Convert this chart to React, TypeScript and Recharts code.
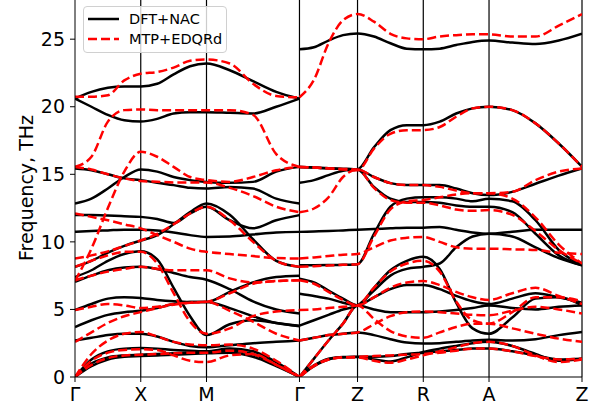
import React from "react"
import { Line, LineChart, ReferenceLine, XAxis, YAxis } from "recharts"

// high-symmetry points along the path (Γ-X = X-M = a, Γ-Z = c)
const KPOINT_X = [0, 1, 2, 3.414, 4.297, 5.297, 6.297, 7.711]
const KPOINT_LABELS = ["Γ", "X", "M", "Γ", "Z", "R", "A", "Z"]
const Y_TICKS = [0, 5, 10, 15, 20, 25]

// each band sampled at 5 points per segment (ends shared)
// left part: Γ-X-M-Γ (13 values), right part: Γ-Z-R-A-Z (17 values)
const DFT_LEFT = [
  [20.6, 21.1, 21.4, 21.5, 21.5, 21.7, 22.4, 23.0, 23.2, 22.7, 21.9, 21.1, 20.6],
  [20.6, 20.0, 19.4, 19.0, 18.9, 19.1, 19.5, 19.6, 19.6, 19.55, 19.5, 20.0, 20.6],
  [15.43, 15.3, 15.0, 14.7, 14.57, 14.37, 14.2, 14.0, 13.95, 14.07, 13.95, 13.2, 12.84],
  [12.84, 13.2, 13.95, 14.8, 15.36, 15.2, 14.8, 14.57, 14.44, 14.37, 14.44, 15.2, 15.55],
  [11.98, 11.98, 11.95, 11.9, 11.85, 11.7, 11.4, 12.1, 12.6, 11.6, 11.0, 11.6, 11.98],
  [10.74, 10.8, 10.85, 10.9, 10.9, 10.85, 10.7, 10.5, 10.37, 10.4, 10.55, 10.7, 10.74],
  [8.15, 8.6, 9.2, 9.7, 10.1, 10.5, 11.3, 12.2, 12.84, 12.0, 10.2, 8.6, 8.15],
  [7.4, 7.9, 8.6, 9.1, 9.3, 8.7, 6.6, 4.5, 3.1, 3.9, 4.2, 4.0, 3.75],
  [7.05, 7.5, 7.9, 8.1, 8.15, 8.0, 7.7, 7.4, 7.2, 6.5, 5.6, 5.0, 4.7],
  [4.95, 5.4, 5.8, 5.9, 5.85, 5.7, 5.6, 5.55, 5.55, 6.3, 7.0, 7.4, 7.5],
  [3.7, 4.2, 4.6, 4.8, 4.9, 5.1, 5.4, 5.55, 5.55, 5.1, 4.5, 4.0, 3.8],
  [2.7, 2.9, 3.1, 3.2, 3.2, 3.0, 2.6, 2.3, 2.2, 2.35, 2.5, 2.6, 2.7],
  [0, 1.3, 1.9, 2.1, 2.15, 2.1, 2.0, 1.95, 1.9, 2.1, 1.9, 1.1, 0],
  [0, 1.0, 1.45, 1.6, 1.65, 1.7, 1.75, 1.8, 1.85, 1.95, 1.7, 0.9, 0],
  [0, 0.8, 1.3, 1.5, 1.55, 1.6, 1.65, 1.7, 1.75, 1.8, 1.5, 0.8, 0],
]

const DFT_RIGHT = [
  [24.25, 24.4, 24.9, 25.3, 25.43, 25.2, 24.7, 24.3, 24.25, 24.3, 24.57, 24.8, 24.9, 24.75, 24.64, 24.9, 25.4],
  [14.37, 14.57, 14.94, 15.26, 15.36, 17.0, 18.27, 18.64, 18.64, 18.9, 19.5, 19.88, 20.0, 19.75, 18.77, 17.28, 15.56],
  [15.55, 15.5, 15.45, 15.4, 15.36, 14.8, 14.35, 14.2, 14.2, 14.2, 13.95, 13.6, 13.46, 13.7, 14.3, 14.9, 15.43],
  [15.55, 15.5, 15.45, 15.4, 15.36, 14.07, 13.2, 12.96, 12.96, 12.9, 12.7, 12.6, 12.6, 12.2, 10.6, 9.0, 8.27],
  [10.74, 10.77, 10.8, 10.85, 10.9, 10.95, 11.0, 11.05, 11.05, 11.1, 10.9, 10.7, 10.6, 10.75, 10.9, 10.9, 10.9],
  [8.27, 8.27, 8.28, 8.3, 8.35, 10.6, 12.6, 13.2, 13.3, 13.3, 13.2, 13.0, 13.2, 13.0, 11.6, 9.4, 8.27],
  [3.8, 4.2, 4.6, 5.0, 5.3, 6.4, 7.5, 8.0, 8.15, 8.4, 9.6, 10.4, 10.6, 10.4, 9.6, 8.8, 8.27],
  [7.28, 7.0, 6.4, 5.8, 5.3, 5.9, 6.5, 6.8, 6.8, 6.5, 6.0, 5.6, 5.4, 5.8, 6.2, 5.9, 5.5],
  [6.17, 6.0, 5.8, 5.5, 5.3, 6.6, 7.9, 8.6, 8.9, 8.0, 5.5, 3.6, 3.2, 4.4, 5.8, 5.9, 5.3],
  [0, 1.36, 2.7, 3.95, 5.3, 5.0, 4.8, 4.8, 4.8, 4.85, 4.95, 5.1, 5.3, 5.1, 5.0, 5.2, 5.3],
  [2.7, 2.9, 3.1, 3.2, 3.3, 3.1, 2.8, 2.55, 2.47, 2.5, 2.6, 2.7, 2.75, 2.7, 2.8, 3.1, 3.33],
  [0, 0.86, 1.36, 1.48, 1.48, 1.3, 1.15, 1.45, 1.85, 2.1, 2.3, 2.5, 2.6, 2.3, 1.7, 1.2, 1.36],
  [0, 0.8, 1.3, 1.45, 1.5, 1.5, 1.55, 1.7, 1.8, 1.9, 2.0, 2.1, 2.1, 1.9, 1.6, 1.3, 1.36],
]

const MTP_LEFT = [
  [20.74, 20.74, 20.85, 21.95, 22.44, 22.57, 22.9, 23.4, 23.5, 23.2, 21.7, 20.8, 20.7],
  [15.55, 16.3, 18.9, 19.75, 19.8, 19.75, 19.75, 19.75, 19.75, 19.75, 19.4, 16.5, 15.55],
  [15.55, 15.35, 15.0, 14.7, 14.5, 14.45, 14.4, 14.4, 14.4, 14.0, 13.4, 12.6, 12.2],
  [7.1, 9.5, 12.5, 15.2, 16.67, 16.3, 15.55, 14.8, 14.57, 14.44, 14.8, 15.3, 15.55],
  [12.1, 11.85, 11.6, 11.3, 11.0, 10.5, 10.0, 9.5, 9.26, 9.1, 8.95, 8.8, 8.77],
  [8.77, 9.0, 9.3, 9.7, 10.1, 10.6, 11.3, 12.1, 12.6, 11.6, 10.0, 8.6, 8.15],
  [8.15, 8.6, 9.0, 9.26, 9.26, 8.4, 6.2, 4.1, 3.2, 3.6, 4.5, 4.85, 4.95],
  [7.16, 7.5, 7.8, 8.0, 8.15, 8.0, 7.9, 7.9, 7.9, 7.3, 7.0, 7.1, 7.16],
  [4.95, 5.2, 5.4, 5.3, 5.1, 5.2, 5.4, 5.5, 5.56, 6.2, 6.9, 7.1, 7.16],
  [2.6, 3.3, 4.0, 4.5, 4.8, 5.1, 5.35, 5.5, 5.56, 4.9, 4.1, 3.2, 2.7],
  [0, 1.7, 2.7, 3.2, 3.33, 3.0, 2.6, 2.4, 2.35, 2.4, 2.1, 1.2, 0],
  [0, 1.2, 1.8, 2.0, 2.05, 2.0, 1.6, 1.2, 1.1, 1.6, 1.7, 0.9, 0],
  [0, 0.9, 1.4, 1.6, 1.65, 1.7, 1.75, 1.8, 1.8, 1.95, 1.7, 0.9, 0],
]

const MTP_RIGHT = [
  [20.7, 22.0, 24.7, 26.4, 26.86, 26.3, 25.4, 25.06, 25.0, 25.2, 25.3, 25.36, 25.36, 25.2, 25.2, 26.0, 26.86],
  [15.55, 15.5, 15.43, 15.36, 15.3, 16.9, 18.0, 18.27, 18.27, 18.5, 19.26, 19.88, 20.0, 19.75, 18.77, 17.28, 15.56],
  [12.2, 12.47, 13.3, 14.8, 15.36, 14.8, 14.35, 14.2, 14.2, 14.07, 13.8, 13.6, 13.6, 13.7, 14.57, 15.2, 15.43],
  [15.55, 15.5, 15.45, 15.4, 15.36, 14.0, 13.1, 12.9, 12.9, 12.7, 12.4, 12.3, 12.35, 12.0, 10.8, 9.4, 8.4],
  [8.15, 8.2, 8.25, 8.3, 8.35, 10.4, 12.4, 13.0, 13.1, 13.3, 13.5, 13.6, 13.6, 13.2, 11.8, 9.8, 8.4],
  [8.77, 8.85, 8.95, 9.05, 9.1, 9.6, 10.1, 10.3, 10.37, 10.0, 9.6, 9.5, 9.5, 9.45, 9.4, 9.2, 9.1],
  [7.16, 6.9, 6.3, 5.7, 5.3, 5.9, 6.6, 7.0, 7.1, 6.8, 6.3, 5.9, 5.7, 6.2, 6.6, 6.0, 5.4],
  [4.95, 5.0, 5.1, 5.2, 5.3, 6.6, 7.8, 8.4, 8.6, 7.8, 5.6, 4.2, 3.95, 4.8, 5.9, 5.9, 5.6],
  [0, 1.36, 2.7, 3.95, 5.3, 4.3, 3.4, 3.0, 2.9, 3.3, 3.7, 3.95, 3.95, 3.6, 3.2, 2.84, 2.6],
  [2.7, 2.9, 3.1, 3.2, 3.3, 3.9, 4.5, 4.8, 4.85, 4.8, 4.7, 4.6, 4.57, 4.9, 5.2, 5.0, 4.7],
  [0, 0.85, 1.3, 1.45, 1.45, 1.2, 1.05, 1.3, 1.6, 1.9, 2.2, 2.5, 2.6, 2.3, 1.6, 1.1, 1.3],
  [0, 0.8, 1.3, 1.45, 1.5, 1.55, 1.6, 1.65, 1.7, 1.8, 1.95, 2.1, 2.1, 1.9, 1.55, 1.3, 1.36],
]

const FONT = "DejaVu Sans, sans-serif"

// sample positions: 4 steps inside each segment between high-symmetry points
function pathSamples(first: number, last: number) {
  const xs: number[] = [KPOINT_X[first]]
  for (let s = first; s < last; s++) {
    const a = KPOINT_X[s]
    const b = KPOINT_X[s + 1]
    for (let k = 1; k <= 4; k++) xs.push(a + ((b - a) * k) / 4)
  }
  return xs
}

const LEFT_X = pathSamples(0, 3)
const RIGHT_X = pathSamples(3, 7)

const toPoints = (xs: number[], ys: number[]) => ys.map((y, i) => ({ x: xs[i], y }))

const bands = (rows: number[][], xs: number[], key: string) =>
  rows.map((row, i) => ({ id: `${key}-${i}`, points: toPoints(xs, row) }))

const dftBands = [...bands(DFT_LEFT, LEFT_X, "dl"), ...bands(DFT_RIGHT, RIGHT_X, "dr")]
const mtpBands = [...bands(MTP_LEFT, LEFT_X, "ml"), ...bands(MTP_RIGHT, RIGHT_X, "mr")]

function LegendBox() {
  return (
    <div
      style={{
        position: "absolute",
        left: 83,
        top: 6,
        width: 142,
        height: 45,
        border: "1px solid #d0d0d0",
        borderRadius: 4,
        background: "rgba(255,255,255,0.8)",
      }}
    >
      <svg width={142} height={45} style={{ position: "absolute", left: 0, top: 0 }}>
        <line x1={4} x2={35} y1={12} y2={12} stroke="#000" strokeWidth={2.5} />
        <line x1={4} x2={35} y1={32} y2={32} stroke="#ff0000" strokeWidth={2.5} strokeDasharray="9 4" />
        <text x={45} y={17} fontFamily={FONT} fontSize={14.5}>DFT+NAC</text>
        <text x={45} y={37} fontFamily={FONT} fontSize={14.5}>MTP+EDQRd</text>
      </svg>
    </div>
  )
}

export default function App() {
  return (
    <div style={{ position: "absolute", left: 0, top: 0, width: 600, height: 410, background: "#fff" }}>
      <LineChart width={600} height={410} margin={{ top: 0, right: 18, bottom: 0, left: 0 }}>
        <XAxis
          type="number"
          dataKey="x"
          domain={[0, KPOINT_X[KPOINT_X.length - 1]]}
          ticks={KPOINT_X}
          tickFormatter={(_v, i) => KPOINT_LABELS[i]}
          interval={0}
          height={33}
          tickSize={5}
          tickMargin={6}
          stroke="#000"
          tick={{ fill: "#000", fontSize: 19, fontFamily: FONT }}
          allowDataOverflow
        />
        <YAxis
          type="number"
          domain={[0, 27.9]}
          ticks={Y_TICKS}
          width={75}
          tickSize={5}
          tickMargin={5}
          stroke="#000"
          tick={{ fill: "#000", fontSize: 19, fontFamily: FONT }}
          allowDataOverflow
          label={{
            content: () => (
              <text
                x={26}
                y={188}
                transform="rotate(-90 26 188)"
                textAnchor="middle"
                dominantBaseline="central"
                fontFamily={FONT}
                fontSize={19}
                fill="#000"
              >
                Frequency, THz
              </text>
            ),
          }}
        />
        {KPOINT_X.slice(1).map((x, i) => (
          <ReferenceLine key={`k${i}`} x={x} stroke="#000" strokeWidth={1.2} />
        ))}
        {dftBands.map((b) => (
          <Line
            key={b.id}
            data={b.points}
            dataKey="y"
            type="monotone"
            stroke="#000"
            strokeWidth={2.5}
            dot={false}
            activeDot={false}
            isAnimationActive={false}
          />
        ))}
        {mtpBands.map((b) => (
          <Line
            key={b.id}
            data={b.points}
            dataKey="y"
            type="monotone"
            stroke="#ff0000"
            strokeWidth={2.5}
            strokeDasharray="9 4"
            dot={false}
            activeDot={false}
            isAnimationActive={false}
          />
        ))}
      </LineChart>
      <LegendBox />
    </div>
  )
}
